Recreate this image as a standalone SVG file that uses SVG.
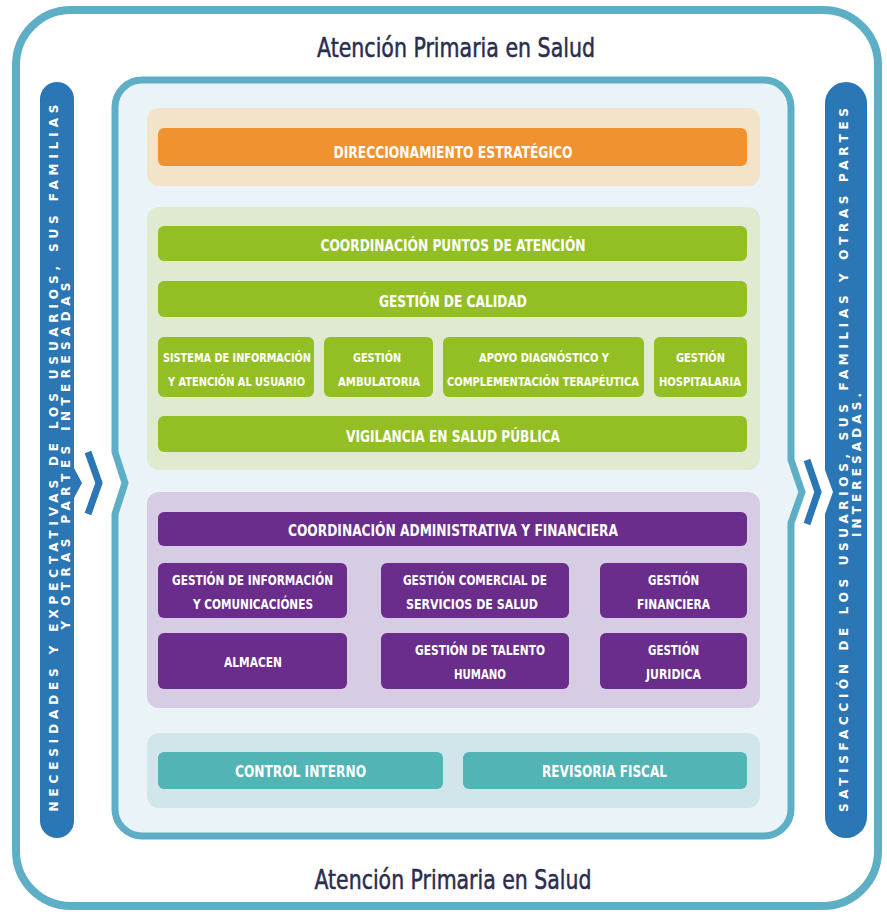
<svg xmlns="http://www.w3.org/2000/svg" width="887" height="918" viewBox="0 0 887 918">
<style>
.title{font-family:"DejaVu Sans Condensed","Liberation Sans",sans-serif;font-size:27px;fill:#2b2d4e;stroke:#2b2d4e;stroke-width:0.5;text-anchor:middle}
.lbl{font-family:"DejaVu Sans Condensed","Liberation Sans",sans-serif;font-weight:bold;fill:#ffffff;text-anchor:middle}
.big{font-size:16px}
.sm{font-size:12px}
.md{font-size:14px}
.side{font-family:"DejaVu Sans","Liberation Sans",sans-serif;font-weight:bold;font-size:12px;fill:#ffffff;text-anchor:middle}
.orange{fill:#f0922f}
.green{fill:#94bf24}
.purple{fill:#6b2d8b}
.teal{fill:#52b4b4}
.chev{fill:none;stroke:#2b76b5;stroke-width:7;stroke-linejoin:miter}
</style>
<rect width="887" height="918" fill="#ffffff"/>
<g id="frame">
<rect x="16" y="10" width="862" height="896" rx="55" fill="#ffffff" stroke="#5eafc5" stroke-width="8"/>
<path d="M142,80 H764 A27,27 0 0 1 791,107 V460 L802,492 L791,523 V809 A27,27 0 0 1 764,836 H142 A27,27 0 0 1 115,809 V514 L125,483 L115,452 V107 A27,27 0 0 1 142,80 Z" fill="#eaf4f8" stroke="#5eafc5" stroke-width="7"/>
</g>
<g id="title-top"><text class="title" x="456" y="57" textLength="278" lengthAdjust="spacingAndGlyphs">Atención Primaria en Salud</text></g>
<g id="title-bottom"><text class="title" x="453" y="889" textLength="277" lengthAdjust="spacingAndGlyphs">Atención Primaria en Salud</text></g>
<g id="left-bar">
<path d="M57,82 A17,17 0 0 1 74,99 V468 L82,483 L74,498 V821 A17,17 0 0 1 57,838 A17,17 0 0 1 40,821 V99 A17,17 0 0 1 57,82 Z" fill="#2b76b5"/>
<text class="side" transform="translate(58,458) rotate(-90)" textLength="707" lengthAdjust="spacing">NECESIDADES Y EXPECTATIVAS DE LOS USUARIOS, SUS FAMILIAS</text>
<text class="side" transform="translate(70,456) rotate(-90)" textLength="347" lengthAdjust="spacing">Y OTRAS PARTES INTERESADAS</text>
</g>
<g id="right-bar">
<path d="M846,82 A21,21 0 0 1 867,103 V817 A21,21 0 0 1 846,838 A21,21 0 0 1 825,817 V514 L833,492 L825,470 V103 A21,21 0 0 1 846,82 Z" fill="#2b76b5"/>
<text class="side" transform="translate(848,460) rotate(-90)" textLength="704" lengthAdjust="spacing">SATISFACCIÓN DE LOS USUARIOS, SUS FAMILIAS Y OTRAS PARTES</text>
<text class="side" transform="translate(861,465) rotate(-90)" textLength="144" lengthAdjust="spacing">INTERESADAS.</text>
</g>
<g id="connectors">
<polyline class="chev" points="88,452 99,483 88,514"/>
<polyline class="chev" points="807,460 818,492 807,524"/>
</g>
<g id="sec-direccionamiento">
<rect x="147" y="108" width="613" height="78" rx="12" fill="#f3e3c9"/>
</g>
<g id="direccionamiento">
<rect class="orange" x="158" y="128" width="589" height="38" rx="6"/>
<text class="lbl big" x="453" y="158" textLength="239" lengthAdjust="spacingAndGlyphs">DIRECCIONAMIENTO ESTRATÉGICO</text>
</g>
<g id="sec-misional">
<rect x="147" y="207" width="613" height="263" rx="12" fill="#dfead0"/>
</g>
<g id="coordinacion-puntos">
<rect class="green" x="158" y="226" width="589" height="35" rx="6"/>
<text class="lbl big" x="453" y="251" textLength="265" lengthAdjust="spacingAndGlyphs">COORDINACIÓN PUNTOS DE ATENCIÓN</text>
</g>
<g id="gestion-calidad">
<rect class="green" x="158" y="281" width="589" height="36" rx="6"/>
<text class="lbl big" x="453" y="307" textLength="148" lengthAdjust="spacingAndGlyphs">GESTIÓN DE CALIDAD</text>
</g>
<g id="siau">
<rect class="green" x="158" y="337" width="156" height="60" rx="6"/>
<text class="lbl sm" x="237" y="362" textLength="148" lengthAdjust="spacingAndGlyphs">SISTEMA DE INFORMACIÓN</text>
<text class="lbl sm" x="236.5" y="386" textLength="137" lengthAdjust="spacingAndGlyphs">Y ATENCIÓN AL USUARIO</text>
</g>
<g id="ambulatoria">
<rect class="green" x="324" y="337" width="109" height="60" rx="6"/>
<text class="lbl sm" x="377" y="362" textLength="48" lengthAdjust="spacingAndGlyphs">GESTIÓN</text>
<text class="lbl sm" x="379" y="386" textLength="82" lengthAdjust="spacingAndGlyphs">AMBULATORIA</text>
</g>
<g id="apoyo">
<rect class="green" x="443" y="337" width="201" height="60" rx="6"/>
<text class="lbl sm" x="544" y="362" textLength="130" lengthAdjust="spacingAndGlyphs">APOYO DIAGNÓSTICO Y</text>
<text class="lbl sm" x="543" y="386" textLength="192" lengthAdjust="spacingAndGlyphs">COMPLEMENTACIÓN TERAPÉUTICA</text>
</g>
<g id="hospitalaria">
<rect class="green" x="654" y="337" width="93" height="60" rx="6"/>
<text class="lbl sm" x="700.5" y="362" textLength="49" lengthAdjust="spacingAndGlyphs">GESTIÓN</text>
<text class="lbl sm" x="700" y="386" textLength="82" lengthAdjust="spacingAndGlyphs">HOSPITALARIA</text>
</g>
<g id="vigilancia">
<rect class="green" x="158" y="416" width="589" height="36" rx="6"/>
<text class="lbl big" x="453" y="442" textLength="214" lengthAdjust="spacingAndGlyphs">VIGILANCIA EN SALUD PÚBLICA</text>
</g>
<g id="sec-apoyo">
<rect x="147" y="492" width="613" height="216" rx="12" fill="#d6cde4"/>
</g>
<g id="coord-admin">
<rect class="purple" x="158" y="512" width="589" height="34" rx="6"/>
<text class="lbl big" x="453" y="536" textLength="330" lengthAdjust="spacingAndGlyphs">COORDINACIÓN ADMINISTRATIVA Y FINANCIERA</text>
</g>
<g id="gest-info">
<rect class="purple" x="158" y="563" width="189" height="55" rx="6"/>
<text class="lbl md" x="252.5" y="585" textLength="161" lengthAdjust="spacingAndGlyphs">GESTIÓN DE INFORMACIÓN</text>
<text class="lbl md" x="253" y="609" textLength="120" lengthAdjust="spacingAndGlyphs">Y COMUNICACIÓNES</text>
</g>
<g id="gest-comercial">
<rect class="purple" x="381" y="563" width="188" height="55" rx="6"/>
<text class="lbl md" x="475" y="585" textLength="144" lengthAdjust="spacingAndGlyphs">GESTIÓN COMERCIAL DE</text>
<text class="lbl md" x="472" y="609" textLength="132" lengthAdjust="spacingAndGlyphs">SERVICIOS DE SALUD</text>
</g>
<g id="gest-financiera">
<rect class="purple" x="600" y="563" width="147" height="55" rx="6"/>
<text class="lbl md" x="673.5" y="585" textLength="51" lengthAdjust="spacingAndGlyphs">GESTIÓN</text>
<text class="lbl md" x="673.5" y="609" textLength="73" lengthAdjust="spacingAndGlyphs">FINANCIERA</text>
</g>
<g id="almacen">
<rect class="purple" x="158" y="633" width="189" height="56" rx="6"/>
<text class="lbl md" x="253" y="667" textLength="58" lengthAdjust="spacingAndGlyphs">ALMACEN</text>
</g>
<g id="talento">
<rect class="purple" x="381" y="633" width="188" height="56" rx="6"/>
<text class="lbl md" x="480" y="655" textLength="130" lengthAdjust="spacingAndGlyphs">GESTIÓN DE TALENTO</text>
<text class="lbl md" x="480" y="679" textLength="52" lengthAdjust="spacingAndGlyphs">HUMANO</text>
</g>
<g id="juridica">
<rect class="purple" x="600" y="633" width="147" height="56" rx="6"/>
<text class="lbl md" x="673.5" y="655" textLength="51" lengthAdjust="spacingAndGlyphs">GESTIÓN</text>
<text class="lbl md" x="673.5" y="679" textLength="55" lengthAdjust="spacingAndGlyphs">JURIDICA</text>
</g>
<g id="sec-control">
<rect x="147" y="733" width="613" height="75" rx="12" fill="#d0e6ea"/>
</g>
<g id="control-interno">
<rect class="teal" x="158" y="752" width="285" height="37" rx="6"/>
<text class="lbl big" x="300.5" y="777" textLength="131" lengthAdjust="spacingAndGlyphs">CONTROL INTERNO</text>
</g>
<g id="revisoria">
<rect class="teal" x="463" y="752" width="284" height="37" rx="6"/>
<text class="lbl big" x="604.5" y="777" textLength="125" lengthAdjust="spacingAndGlyphs">REVISORIA FISCAL</text>
</g>
</svg>
